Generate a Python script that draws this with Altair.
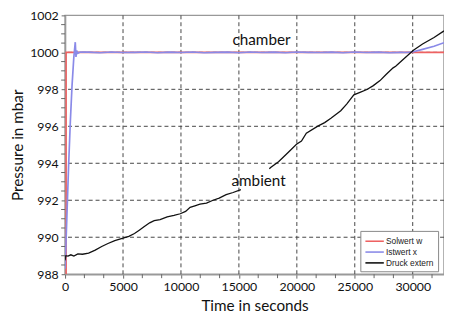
import altair as alt
import pandas as pd

# ---- data ----
series_names = ["Solwert w", "Istwert x", "Druck extern"]
series_colors = ["#ee6262", "#8a8ae8", "#111111"]

t_soll = [90, 90, 32700]
p_soll = [988.0, 1000.0, 1000.0]

t_ist = [0, 150, 300, 450, 600, 750, 880, 940, 1000, 1100, 1300,
         2000, 3000, 4000, 5000, 6000, 7000, 8000, 9000, 10000, 11000,
         12000, 13000, 14000, 15000, 16000, 17000, 18000, 19000, 20000,
         21000, 22000, 23000, 24000, 25000, 26000, 27000, 28000, 29000,
         29500, 30060, 30850, 31840, 32700]
p_ist = [988.3, 991.0, 993.8, 996.2, 998.2, 999.7, 1000.55, 999.75, 1000.1, 999.95, 1000.02,
         1000.01, 999.98, 1000.02, 999.99, 1000.0, 1000.02, 999.98, 1000.01, 999.99, 1000.02,
         999.98, 1000.0, 1000.01, 999.98, 1000.02, 999.99, 1000.01, 999.98, 1000.02,
         1000.0, 999.99, 1000.01, 999.98, 1000.02, 999.99, 1000.01, 999.98, 1000.0,
         999.99, 1000.03, 1000.16, 1000.33, 1000.52]

t_ext1 = [0, 60, 250, 500, 760, 1100, 1500, 2030, 2600, 3160, 3700, 4290, 5000,
          5500, 5990, 6400, 6840, 7300, 7690, 8200, 8810, 9400, 9940, 10400,
          10790, 11200, 11640, 12200, 12770, 13300, 13900, 14500, 15170]
p_ext1 = [988.75, 989.0, 988.98, 989.05, 988.98, 989.1, 989.08, 989.14, 989.3, 989.5,
          989.66, 989.82, 989.95, 990.05, 990.2, 990.38, 990.58, 990.78, 990.9, 990.95,
          991.1, 991.18, 991.27, 991.4, 991.62, 991.7, 991.79, 991.85, 992.0, 992.12,
          992.3, 992.42, 992.58]

t_ext2 = [17630, 17710, 18420, 19270, 19970, 20400, 20820, 21810, 22400, 22940,
          23790, 24300, 24920, 25500, 26050, 26600, 27180, 27700, 28310, 28530,
          29290, 30060, 30850, 31840, 32700]
p_ext2 = [993.7, 993.76, 994.08, 994.6, 995.03, 995.2, 995.63, 996.01, 996.2, 996.44,
          996.84, 997.2, 997.7, 997.85, 997.99, 998.2, 998.47, 998.8, 999.16, 999.25,
          999.68, 1000.11, 1000.45, 1000.8, 1001.16]

ann_t = [16950, 16700]
ann_p = [1000.66, 993.06]
ann_text = ["chamber", "ambient"]

x_major = [0, 5000, 10000, 15000, 20000, 25000, 30000]
y_major = [988, 990, 992, 994, 996, 998, 1000, 1002]
x_minor = [1667, 3333, 6667, 8333, 11667, 13333, 16667, 18333, 21667, 23333,
           26667, 28333, 31667]
y_minor = [988.5, 989, 989.5, 990.5, 991, 991.5, 992.5, 993, 993.5, 994.5, 995, 995.5,
           996.5, 997, 997.5, 998.5, 999, 999.5, 1000.5, 1001, 1001.5]

# ---- tables ----
df_soll = pd.DataFrame({"t": t_soll, "p": p_soll, "series": series_names[0]})
df_ist = pd.DataFrame({"t": t_ist, "p": p_ist, "series": series_names[1]})
df_ext = pd.concat([
    pd.DataFrame({"t": t_ext1, "p": p_ext1, "series": series_names[2], "part": 1}),
    pd.DataFrame({"t": t_ext2, "p": p_ext2, "series": series_names[2], "part": 2}),
])
df_ann = pd.DataFrame({"t": ann_t, "p": ann_p, "label": ann_text})
df_xminor = pd.DataFrame({"t": x_minor})
df_yminor = pd.DataFrame({"p": y_minor})
df_xgrid = pd.DataFrame({"t": x_major[1:]})
df_ygrid = pd.DataFrame({"p": y_major[1:-1]})

FONT = "Lato"
W, H = 385, 263
GRID = dict(color="#444", strokeWidth=1, strokeDash=[4, 3])

x_scale = alt.Scale(domain=[0, 32700], nice=False, zero=False)
y_scale = alt.Scale(domain=[988, 1002], nice=False, zero=False)
x_enc = alt.X("t:Q", title="Time in seconds", scale=x_scale,
              axis=alt.Axis(values=x_major, format="d", grid=False, labelFlush=False, titlePadding=5))
y_enc = alt.Y("p:Q", title="Pressure in mbar", scale=y_scale,
              axis=alt.Axis(values=y_major, format="d", grid=False, titlePadding=4))
color_enc = alt.Color("series:N",
                      scale=alt.Scale(domain=series_names, range=series_colors),
                      legend=alt.Legend(title=None, orient="none", legendX=300, legendY=219,
                                        symbolType="M-1.7,0H1.7", symbolSize=121, symbolStrokeWidth=1.6,
                                        symbolOffset=4,
                                        labelFont="Liberation Sans", labelFontSize=8.5, labelColor="#222",
                                        fillColor="white", strokeColor="#888", padding=4,
                                        rowPadding=0, labelOffset=5, cornerRadius=0))

xgrid = alt.Chart(df_xgrid).mark_rule(**GRID).encode(x=x_enc)
ygrid = alt.Chart(df_ygrid).mark_rule(**GRID).encode(y=y_enc)
soll = alt.Chart(df_soll).mark_line(strokeWidth=1.6, clip=True).encode(
    x=x_enc, y=y_enc, color=color_enc)
ist = alt.Chart(df_ist).mark_line(strokeWidth=1.7, clip=True).encode(
    x=x_enc, y=y_enc, color=color_enc)
ext = alt.Chart(df_ext).mark_line(strokeWidth=1.3, clip=True).encode(
    x=x_enc, y=y_enc, color=color_enc, detail="part:N")
ann = alt.Chart(df_ann).mark_text(font=FONT, fontSize=15.5, color="#111", baseline="middle").encode(
    x=x_enc, y=y_enc, text="label:N")
xminor = alt.Chart(df_xminor).mark_rule(color="#666", strokeWidth=1).encode(
    x=x_enc, y=alt.value(H), y2=alt.value(H + 4))
yminor = alt.Chart(df_yminor).mark_rule(color="#666", strokeWidth=1).encode(
    y=y_enc, x=alt.value(-4), x2=alt.value(0))

chart = alt.layer(xgrid, ygrid, soll, ist, ext, ann, xminor, yminor).properties(
    width=W, height=H,
    autosize=alt.AutoSizeParams(type="none"),
    padding={"left": 58, "right": 0, "top": 5, "bottom": 42},
).configure_view(
    stroke="#999", strokeWidth=1.5
).configure_axis(
    labelFont=FONT, labelFontSize=12.5, labelColor="#111",
    titleFont=FONT, titleFontSize=15.5, titleFontWeight="normal", titleColor="#111",
    domainColor="#999", domainWidth=1.5,
    tickColor="#666", tickSize=4, tickWidth=1,
    labelPadding=3,
)

chart.save("out.html", embed_options={"renderer": "svg", "actions": False})
